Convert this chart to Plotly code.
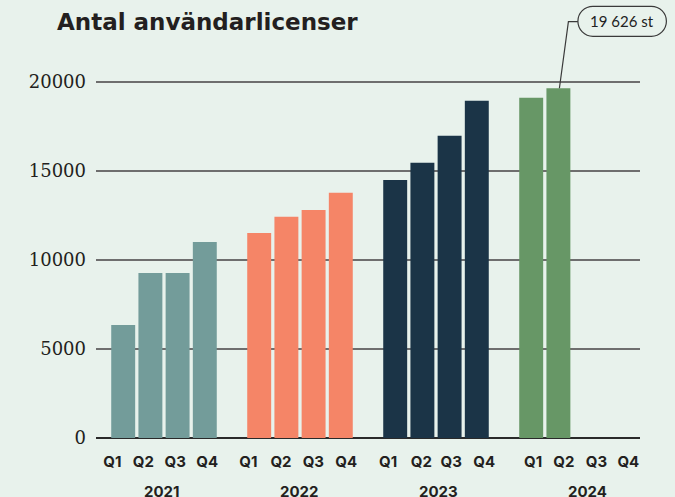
import plotly.graph_objects as go

# ---- data ----
years = ["2021", "2022", "2023", "2024"]
quarters = ["Q1", "Q2", "Q3", "Q4"]
values_2021 = [6340, 9260, 9260, 11000]
values_2022 = [11510, 12410, 12800, 13760]
values_2023 = [14480, 15440, 16960, 18930]
values_2024 = [19100, 19626]
callout_text = "19 626 st"
y_ticks = [0, 5000, 10000, 15000, 20000]

series = [values_2021, values_2022, values_2023, values_2024]
colors = ["#739c9a", "#f58567", "#1b3447", "#679766"]

BG = "#e8f2ec"
TXT = "#231f20"
X_RANGE = [-1, 19]
Y_RANGE = [0, 24580]

fig = go.Figure()
slot = 0
for yr, vals, col in zip(years, series, colors):
    xs = [slot + i for i in range(len(vals))]
    fig.add_trace(go.Bar(x=xs, y=vals, marker=dict(color=col, line=dict(width=0)),
                         name=yr, showlegend=False, hoverinfo="y"))
    slot += 5

# tick label positions (slightly different spacing than bars, as in reference)
q_label_pos = [-0.40, 0.74, 1.91, 3.09,
               4.60, 5.80, 6.99, 8.20,
               9.74, 10.96, 12.06, 13.27,
               15.07, 16.20, 17.40, 18.57]
q_label_text = quarters * 4
year_label_pos = [1.40, 6.47, 11.58, 17.06]

fig.update_layout(
    width=675, height=497,
    paper_bgcolor=BG, plot_bgcolor=BG,
    margin=dict(l=96, r=35, t=0, b=59),
    bargap=0.12,
    title=dict(text="<b>Antal användarlicenser</b>", x=57/675, xanchor="left",
               y=1-21.5/497, yanchor="middle",
               font=dict(family="DejaVu Sans", size=23, color=TXT)),
    xaxis=dict(range=X_RANGE, showgrid=False, zeroline=False, showline=False,
               tickmode="array", tickvals=q_label_pos, ticktext=q_label_text,
               tickfont=dict(family="Inter", size=15, color=TXT, weight=700),
               ticks="", ticklabelstandoff=13, fixedrange=True),
    yaxis=dict(range=Y_RANGE, tickmode="array", tickvals=y_ticks,
               ticktext=[str(v) for v in y_ticks],
               showgrid=True, gridcolor="#6e6e6e", gridwidth=1.6,
               zeroline=True, zerolinecolor="#2a2a2a", zerolinewidth=2,
               showline=False, ticks="", ticklabelstandoff=9,
               tickfont=dict(family="DejaVu Serif", size=18, color=TXT),
               fixedrange=True),
)

for yr, xp in zip(years, year_label_pos):
    fig.add_annotation(x=xp, xref="x", y=0, yref="paper", yanchor="middle",
                       yshift=-53, text=yr, showarrow=False,
                       font=dict(family="Inter", size=15, color=TXT, weight=700))

# callout: leader line + pill, anchored to top of last bar
ax_x = 5 * 3 + len(values_2024) - 1
ax_y = values_2024[-1]
ax_xp = (ax_x - X_RANGE[0]) / (X_RANGE[1] - X_RANGE[0])
ax_yp = (ax_y - Y_RANGE[0]) / (Y_RANGE[1] - Y_RANGE[0])
k = 15 * 0.5523
pill = (f"M 34.5,82 L 93,82 C {93+k},82 108,{67+k} 108,67 "
        f"C 108,{67-k} {93+k},52 93,52 L 34.5,52 "
        f"C {34.5-k},52 19.5,{67-k} 19.5,67 C 19.5,{67+k} {34.5-k},82 34.5,82 Z")
fig.add_shape(type="path", xref="paper", yref="paper", xsizemode="pixel", ysizemode="pixel",
              xanchor=ax_xp, yanchor=ax_yp, path=pill,
              line=dict(color="#3a3a3a", width=1.2), fillcolor=BG, layer="above")
fig.add_shape(type="path", xref="paper", yref="paper", xsizemode="pixel", ysizemode="pixel",
              xanchor=ax_xp, yanchor=ax_yp, path="M 1,0 L 10,66.7 L 19.5,66.7",
              line=dict(color="#3a3a3a", width=1.2), layer="above")
fig.add_annotation(x=ax_x, y=ax_y, xref="x", yref="y", xshift=63.5, yshift=67,
                   text=callout_text, showarrow=False,
                   font=dict(family="Lato", size=15, color="#222222", weight=400))

fig.write_html("out.html", config={"displayModeBar": False},
               post_script="document.body.style.margin='0';document.body.style.padding='0';")
